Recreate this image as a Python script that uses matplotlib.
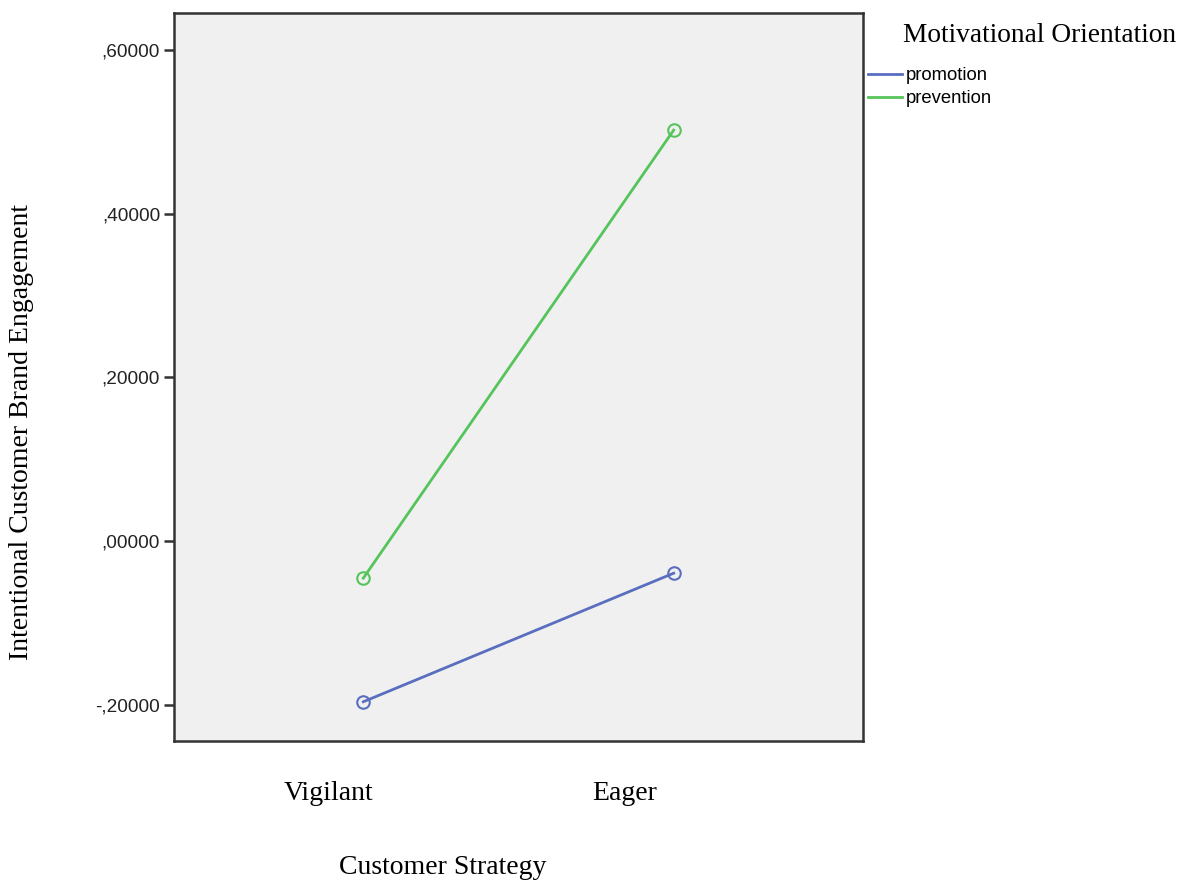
import matplotlib
matplotlib.use("Agg")
import matplotlib.pyplot as plt
from matplotlib.ticker import FuncFormatter, FixedLocator
from matplotlib.lines import Line2D

# Estimated marginal means by customer strategy and motivational orientation
strategies = ["Vigilant", "Eager"]
promotion = [-0.196, -0.039]
prevention = [-0.045, 0.502]
yticks = [-0.2, 0.0, 0.2, 0.4, 0.6]

blue = "#5a6ec0"
green = "#55c45a"

fig = plt.figure(figsize=(11.87, 8.82), dpi=100)
W, H = 1187, 882
L, R, T, B = 174, 863, 13, 741
ax = fig.add_axes([L / W, 1 - B / H, (R - L) / W, (B - T) / H])
ax.set_facecolor("#f0f0f0")

x = list(range(len(strategies)))
ax.plot(x, promotion, color=blue, lw=2, marker="o", ms=9, mfc="none", mew=1.5)
ax.plot(x, prevention, color=green, lw=2, marker="o", ms=9, mfc="none", mew=1.5)

ax.set_xlim(-0.61, 1.61)
ax.set_ylim(-0.2439, 0.645)

ax.yaxis.set_major_locator(FixedLocator(yticks))


def spss_fmt(v, pos):
    s = f"{abs(v):.5f}".replace("0.", ",", 1)
    return ("-" if v < -1e-9 else "") + s


ax.yaxis.set_major_formatter(FuncFormatter(spss_fmt))
ax.tick_params(axis="y", length=7, width=1.8, color="#333333", labelsize=13.7,
               pad=3, labelcolor="#222222")
for lab in ax.get_yticklabels():
    lab.set_fontfamily("Liberation Sans")

# Category labels sit well below the frame, shifted a little left of the points
ax.set_xticks(x)
ax.set_xticklabels([])
ax.tick_params(axis="x", length=0)
label_shift = [-35, -49]  # pixels
for xi, name, dx in zip(x, strategies, label_shift):
    ax.annotate(name, xy=(xi, 0), xycoords=("data", "axes fraction"),
                xytext=(dx * 0.72, -(793 - B) * 0.72), textcoords="offset points",
                ha="center", va="center", fontfamily="Liberation Serif",
                fontsize=20)

for sp in ax.spines.values():
    sp.set_linewidth(1.8)
    sp.set_color("#333333")

fig.text(443 / W, 1 - 867 / H, "Customer Strategy", fontfamily="Liberation Serif",
         fontsize=20, ha="center", va="center")
fig.text(22 / W, 1 - 432 / H, "Intentional Customer Brand Engagement",
         fontfamily="Liberation Serif", fontsize=20, ha="center", va="center",
         rotation=90)

# Legend to the right of the plot area
fig.text(903 / W, 1 - 35 / H, "Motivational Orientation",
         fontfamily="Liberation Serif", fontsize=19.7, va="center", ha="left")
handles = [Line2D([], [], color=blue, lw=2), Line2D([], [], color=green, lw=2)]
leg = fig.legend(handles, ["promotion", "prevention"],
                 loc="upper left", bbox_to_anchor=(868 / W, 1 - 67 / H),
                 frameon=False, handlelength=1.85, handletextpad=0.22,
                 labelspacing=0.33, borderaxespad=0, borderpad=0,
                 prop={"family": "Liberation Sans", "size": 13.3})

fig.savefig("out.png", dpi=100)
